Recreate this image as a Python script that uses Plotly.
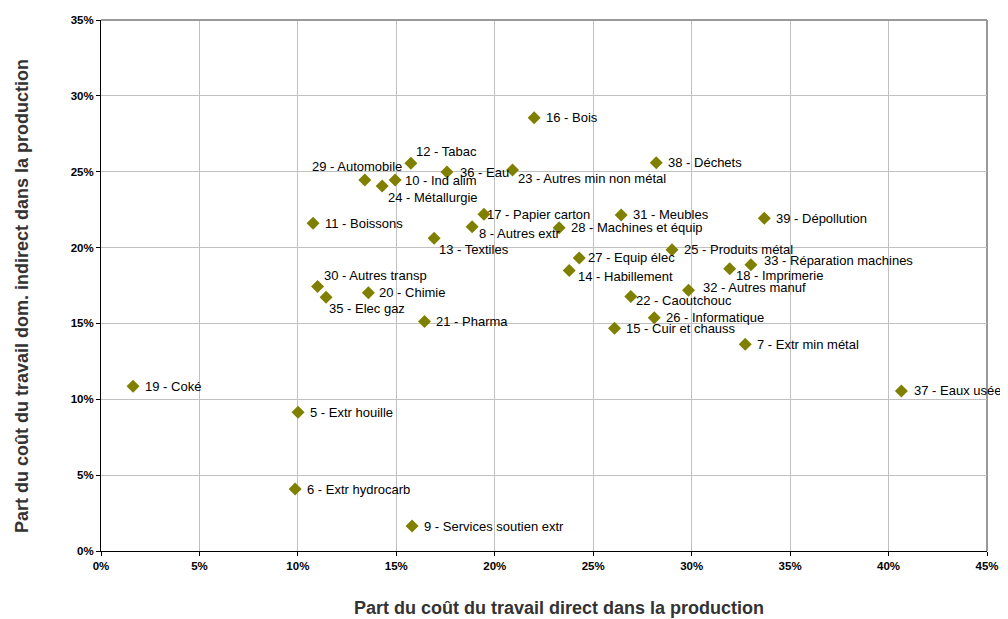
import plotly.graph_objects as go

labels = ["19 - Coké", "5 - Extr houille", "6 - Extr hydrocarb", "9 - Services soutien extr",
          "16 - Bois", "12 - Tabac", "29 - Automobile", "24 - Métallurgie", "10 - Ind alim",
          "36 - Eau", "23 - Autres min non métal", "11 - Boissons", "17 - Papier carton",
          "8 - Autres extr", "28 - Machines et équip", "13 - Textiles", "38 - Déchets",
          "31 - Meubles", "39 - Dépollution", "27 - Equip élec", "14 - Habillement",
          "25 - Produits métal", "33 - Réparation machines", "18 - Imprimerie",
          "32 - Autres manuf", "22 - Caoutchouc", "26 - Informatique", "15 - Cuir et chauss",
          "7 - Extr min métal", "37 - Eaux usées", "30 - Autres transp", "20 - Chimie",
          "35 - Elec gaz", "21 - Pharma"]
direct = [1.63, 10.01, 9.86, 15.8,
          22.0, 15.74, 13.4, 14.28, 14.94,
          17.57, 20.9, 10.77, 19.45,
          18.85, 23.27, 16.92, 28.2,
          26.42, 33.69, 24.29, 23.78,
          29.0, 33.01, 31.93,
          29.84, 26.91, 28.1, 26.08,
          32.72, 40.65, 11.0, 13.58,
          11.43, 16.43]
indirect = [10.86, 9.14, 4.08, 1.64,
            28.55, 25.55, 24.45, 24.06, 24.45,
            24.98, 25.11, 21.6, 22.19,
            21.38, 21.3, 20.61, 25.59,
            22.15, 21.93, 19.32, 18.49,
            19.85, 18.86, 18.6,
            17.19, 16.78, 15.38, 14.69,
            13.62, 10.55, 17.43, 17.02,
            16.73, 15.13]

x_title = "Part du coût du travail direct dans la production"
y_title = "Part du coût du travail dom. indirect dans la production"

# label offsets in pixels (dx, dy up) relative to marker, default (10, 0)
label_offsets = {"12 - Tabac": (3, 12), "29 - Automobile": (-55, 14),
                 "24 - Métallurgie": (4, -12), "10 - Ind alim": (8, 0),
                 "36 - Eau": (11, 0), "23 - Autres min non métal": (3, -8),
                 "17 - Papier carton": (1, 0), "8 - Autres extr": (5, -7),
                 "13 - Textiles": (3, -11), "27 - Equip élec": (7, 0),
                 "14 - Habillement": (7, -6), "33 - Réparation machines": (11, 4),
                 "18 - Imprimerie": (4, -7), "32 - Autres manuf": (12, 3),
                 "22 - Caoutchouc": (3, -4), "30 - Autres transp": (4, 11),
                 "20 - Chimie": (9, 0), "35 - Elec gaz": (1, -11),
                 "37 - Eaux usées": (11, 0)}

x_ticks = list(range(0, 46, 5))
y_ticks = list(range(0, 36, 5))
FONT = "Liberation Sans, Arial, sans-serif"

fig = go.Figure(go.Scatter(
    x=direct, y=indirect, mode="markers",
    marker=dict(symbol="diamond", size=10, color="#808000"),
    cliponaxis=False, showlegend=False, hoverinfo="skip"))

for lab, xv, yv in zip(labels, direct, indirect):
    dx, dy = label_offsets.get(lab, (10, 0))
    fig.add_annotation(x=xv, y=yv, text=lab, showarrow=False, xanchor="left",
                       yanchor="middle", xshift=dx, yshift=dy,
                       font=dict(family=FONT, size=13, color="black"))

title_font = dict(family=FONT, size=18, color="#333333", weight="bold")
fig.add_annotation(xref="paper", yref="paper", x=0.517, y=-0.107, text=x_title,
                   showarrow=False, xanchor="center", yanchor="middle", font=title_font)
fig.add_annotation(xref="paper", yref="paper", x=-0.0892, y=0.48, text=y_title,
                   showarrow=False, xanchor="center", yanchor="middle", textangle=-90,
                   font=title_font)

axis_common = dict(showgrid=True, gridcolor="#c0c0c0", gridwidth=1, zeroline=False,
                   showline=True, linecolor="black", linewidth=1, automargin=False,
                   ticks="outside", ticklen=4, tickcolor="black",
                   tickfont=dict(family=FONT, size=11.5, color="black", weight="bold"))

fig.update_xaxes(range=[0, 45], tickvals=x_ticks, ticktext=[f"{v}%" for v in x_ticks],
                 **axis_common)
fig.update_yaxes(range=[0, 35], tickvals=y_ticks, ticktext=[f"{v}%" for v in y_ticks],
                 **axis_common)

fig.add_shape(type="line", xref="x domain", yref="y domain", x0=0, x1=1, y0=1, y1=1,
              line=dict(color="#999999", width=2), layer="above")
fig.add_shape(type="line", xref="x domain", yref="y domain", x0=1, x1=1, y0=0, y1=1,
              line=dict(color="#999999", width=2), layer="below")

# page body has an 8px margin: size the figure so the plot area lands where the reference has it
fig.update_layout(width=1000, height=611, margin=dict(l=93, r=21, t=12, b=68, autoexpand=False),
                  plot_bgcolor="white", paper_bgcolor="white")

fig.write_html("out.html")
